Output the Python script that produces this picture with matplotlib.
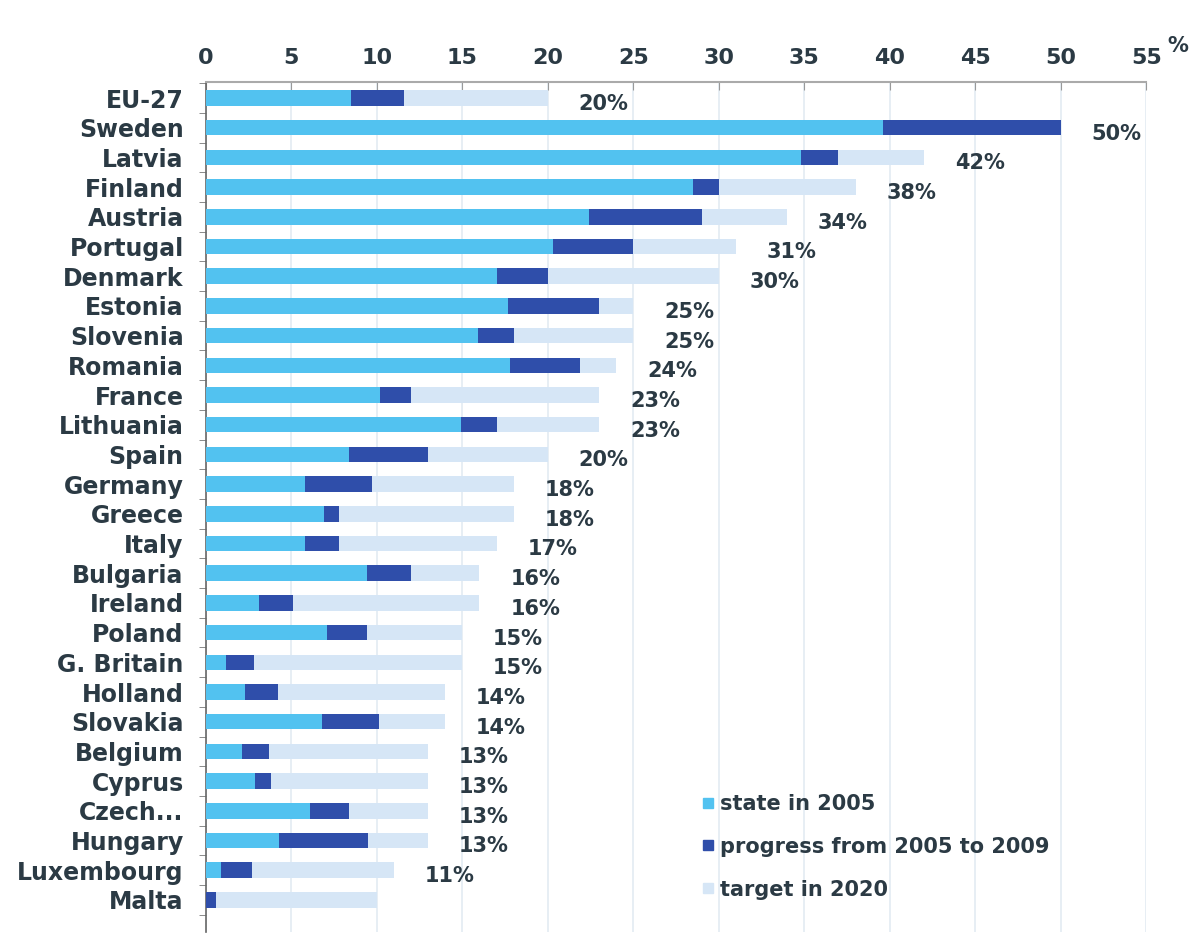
import matplotlib
matplotlib.use("Agg")
import matplotlib.pyplot as plt
import numpy as np
from matplotlib.ticker import FixedLocator
from matplotlib.lines import Line2D

countries = ["EU-27", "Sweden", "Latvia", "Finland", "Austria", "Portugal", "Denmark",
             "Estonia", "Slovenia", "Romania", "France", "Lithuania", "Spain", "Germany",
             "Greece", "Italy", "Bulgaria", "Ireland", "Poland", "G. Britain", "Holland",
             "Slovakia", "Belgium", "Cyprus", "Czech...", "Hungary", "Luxembourg", "Malta"]
state_2005 = [8.5, 39.6, 34.8, 28.5, 22.4, 20.3, 17.0, 17.7, 15.9, 17.8, 10.2, 14.9, 8.4, 5.8,
              6.9, 5.8, 9.4, 3.1, 7.1, 1.2, 2.3, 6.8, 2.1, 2.9, 6.1, 4.3, 0.9, 0.0]
value_2009 = [11.6, 50.0, 37.0, 30.0, 29.0, 25.0, 20.0, 23.0, 18.0, 21.9, 12.0, 17.0, 13.0, 9.7,
              7.8, 7.8, 12.0, 5.1, 9.4, 2.8, 4.2, 10.1, 3.7, 3.8, 8.4, 9.5, 2.7, 0.6]
target_2020 = [20, 50, 42, 38, 34, 31, 30, 25, 25, 24, 23, 23, 20, 18,
               18, 17, 16, 16, 15, 15, 14, 14, 13, 13, 13, 13, 11, 10]
target_labels = ["20%", "50%", "42%", "38%", "34%", "31%", "30%", "25%", "25%", "24%", "23%",
                 "23%", "20%", "18%", "18%", "17%", "16%", "16%", "15%", "15%", "14%", "14%",
                 "13%", "13%", "13%", "13%", "11%", ""]
xticks = [0, 5, 10, 15, 20, 25, 30, 35, 40, 45, 50, 55]

c_state = "#52c2f0"
c_prog = "#2f4eaa"
c_target = "#d6e6f6"
txt = "#2b3a44"

fig = plt.figure(figsize=(12.04, 9.38), dpi=100)
ax = fig.add_axes([0.171, 0.0064, 0.781, 0.9062])

y = np.arange(len(countries))
s = np.array(state_2005)
v = np.array(value_2009)
t = np.array(target_2020)
h = 0.52
ax.barh(y, t, height=h, color=c_target, zorder=2)
ax.barh(y, v - s, left=s, height=h, color=c_prog, zorder=3)
ax.barh(y, s, height=h, color=c_state, zorder=4)

for i, lab in enumerate(target_labels):
    if lab:
        ax.text(t[i] + 1.8, y[i] + 0.2, lab, ha="left", va="center",
                fontsize=15, fontweight="bold", color=txt)

ax.set_xlim(0, 55)
ax.set_ylim(28.08, -0.54)
ax.xaxis.tick_top()
ax.set_xticks(xticks)
ax.set_xticklabels([str(v_) for v_ in xticks], fontsize=16, fontweight="bold", color=txt)
ax.tick_params(axis="x", direction="in", length=6, color="#999999", pad=10)
ax.text(1.022, 1.03, "%", transform=ax.transAxes, fontsize=15, fontweight="bold",
        color=txt, ha="left", va="bottom")

ax.set_yticks(y)
ax.set_yticklabels(countries, fontsize=17, fontweight="bold", color=txt)
ax.tick_params(axis="y", which="major", length=0, pad=16)
ax.yaxis.set_minor_locator(FixedLocator(np.arange(-0.5, len(countries) + 0.5, 1)))
ax.tick_params(axis="y", which="minor", length=5, direction="out", color="#777777")

ax.grid(axis="x", color="#e3ebf2", linewidth=1.2, zorder=0)
ax.set_axisbelow(True)
for sp in ["right", "bottom"]:
    ax.spines[sp].set_visible(False)
ax.spines["top"].set_color("#aaaaaa")
ax.spines["top"].set_linewidth(1.5)
ax.spines["left"].set_color("#666666")
ax.spines["left"].set_linewidth(1.2)

handles = [Line2D([0], [0], marker="s", linestyle="none", markersize=7, color=c_state),
           Line2D([0], [0], marker="s", linestyle="none", markersize=7, color=c_prog),
           Line2D([0], [0], marker="s", linestyle="none", markersize=7, color=c_target)]
leg = ax.legend(handles, ["state in 2005", "progress from 2005 to 2009", "target in 2020"],
                loc="lower left", bbox_to_anchor=(0.505, 0.016), frameon=False,
                prop={"size": 15, "weight": "bold"}, handletextpad=0.2, labelspacing=1.1,
                handlelength=0.8)
for tx in leg.get_texts():
    tx.set_color(txt)

fig.savefig("out.png", dpi=100, facecolor="white")
